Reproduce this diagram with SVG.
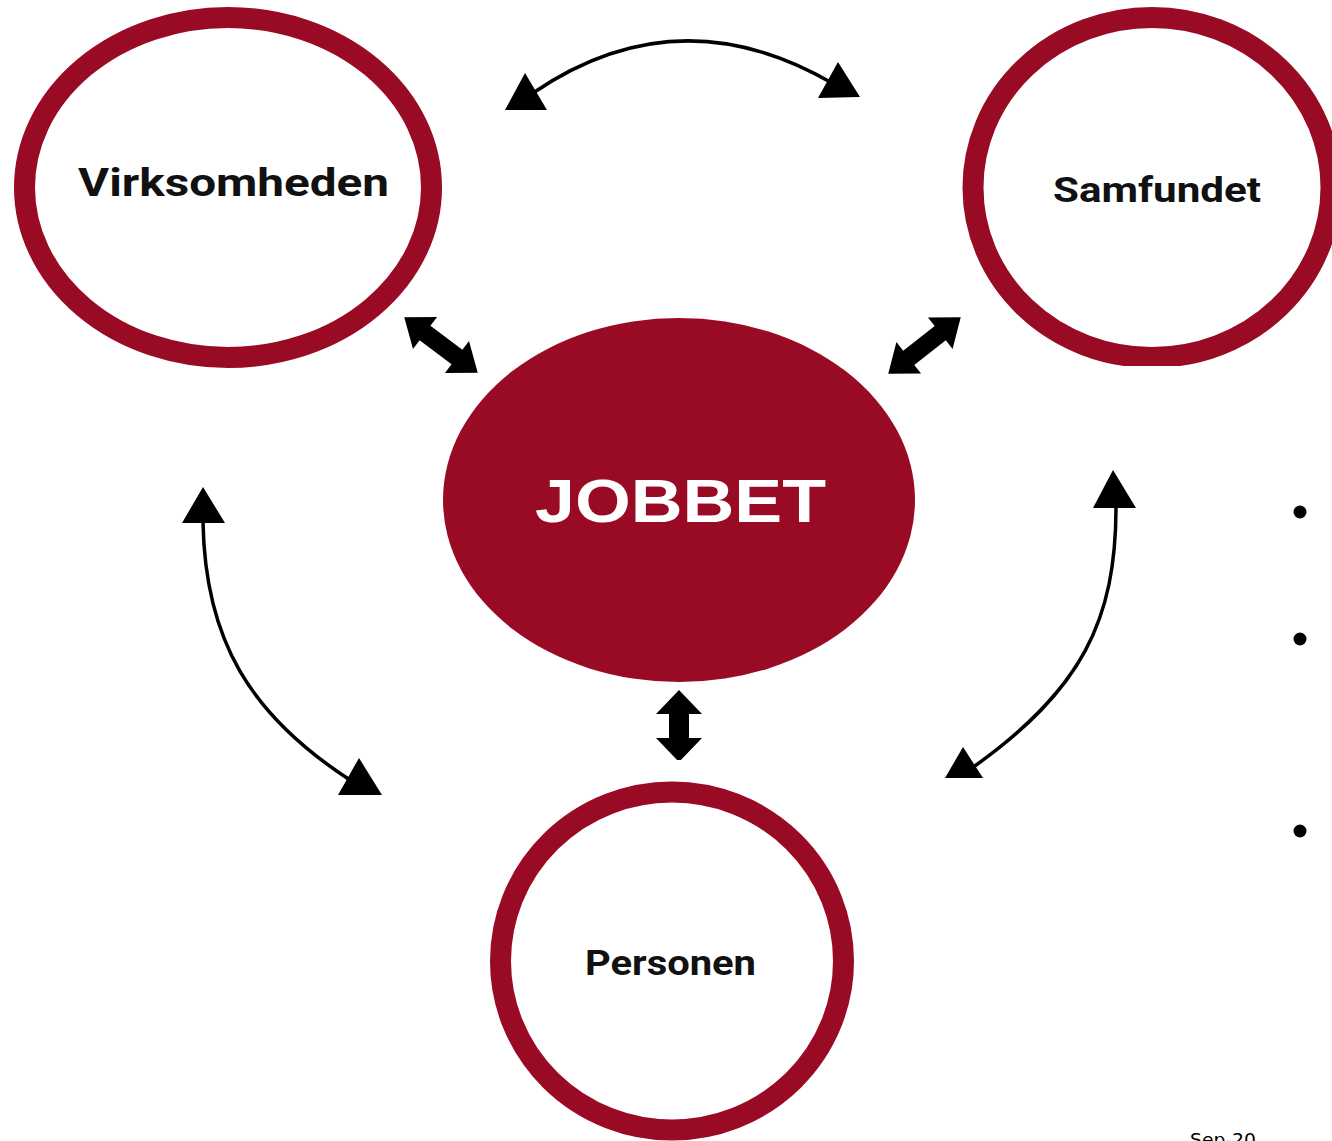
<svg xmlns="http://www.w3.org/2000/svg" width="1332" height="1141" viewBox="0 0 1332 1141">
  <style>
    .ring { fill: #ffffff; stroke: #990a24; stroke-width: 21; }
    .lbl { font-family: Roboto, "Liberation Sans", sans-serif; font-weight: bold; fill: #111111; text-anchor: start; }
    .curve { fill: none; stroke: #000000; stroke-width: 3.5; }
    .tri { fill: #000000; }
    .blk { fill: #000000; }
  </style>
  <defs>
    <path id="dbl" d="M-46,0 L-20,-20 L-20,-9 L20,-9 L20,-20 L46,0 L20,20 L20,9 L-20,9 L-20,20 Z"/>
    <clipPath id="clipS"><rect x="900" y="0" width="432" height="366"/></clipPath>
    <clipPath id="clipV"><rect x="600" y="680" width="160" height="80"/></clipPath>
  </defs>
  <rect width="1332" height="1141" fill="#ffffff"/>

  <g id="connectors">
    <path class="curve" d="M533,93 Q678,-6 832,83"/>
    <polygon class="tri" points="505,110 547,110 525,73"/>
    <polygon class="tri" points="818,98 860,97 838,62"/>

    <path class="curve" d="M203,522 C205,640 250,715 350,780"/>
    <polygon class="tri" points="182,523 225,523 203,487"/>
    <polygon class="tri" points="338,795 382,795 359,758"/>

    <path class="curve" d="M1116,507 C1116,620 1082,690 972,768"/>
    <polygon class="tri" points="1093,508 1136,508 1113,470"/>
    <polygon class="tri" points="945,778 983,778 963,747"/>

    <use href="#dbl" class="blk" transform="translate(441,345) rotate(37)"/>
    <use href="#dbl" class="blk" transform="translate(924.5,345.5) rotate(-38)"/>
    <polygon class="blk" clip-path="url(#clipV)" points="679,690 702,714 689,714 689,738 702,738 679,762 656,738 669,738 669,714 656,714"/>
  </g>

  <g id="node-virksomheden">
    <ellipse class="ring" cx="228" cy="187.5" rx="203.5" ry="170"/>
    <text class="lbl" x="78" y="196" font-size="39" textLength="311" lengthAdjust="spacingAndGlyphs">Virksomheden</text>
  </g>

  <g id="node-samfundet" clip-path="url(#clipS)">
    <ellipse class="ring" cx="1152" cy="187.5" rx="179" ry="170"/>
    <text class="lbl" x="1053" y="202" font-size="35" textLength="208" lengthAdjust="spacingAndGlyphs">Samfundet</text>
  </g>

  <g id="node-jobbet">
    <ellipse cx="679" cy="500" rx="236" ry="182" fill="#990a24"/>
    <text x="535" y="522" font-family="'Liberation Sans', Arial, sans-serif" font-weight="bold" font-size="61" fill="#ffffff" textLength="291" lengthAdjust="spacingAndGlyphs">JOBBET</text>
  </g>

  <g id="node-personen">
    <ellipse class="ring" cx="672" cy="961" rx="171.5" ry="169"/>
    <text class="lbl" x="585" y="975" font-size="35" textLength="171" lengthAdjust="spacingAndGlyphs">Personen</text>
  </g>

  <g id="bullets">
    <circle cx="1300" cy="512" r="6.5" fill="#000000"/>
    <circle cx="1300" cy="639" r="6.5" fill="#000000"/>
    <circle cx="1300" cy="831" r="6.5" fill="#000000"/>
  </g>

  <text x="1190" y="1146" font-family="'DejaVu Sans', Verdana, sans-serif" font-size="18.5" fill="#000000" textLength="66" lengthAdjust="spacingAndGlyphs">Sep-20</text>
</svg>
